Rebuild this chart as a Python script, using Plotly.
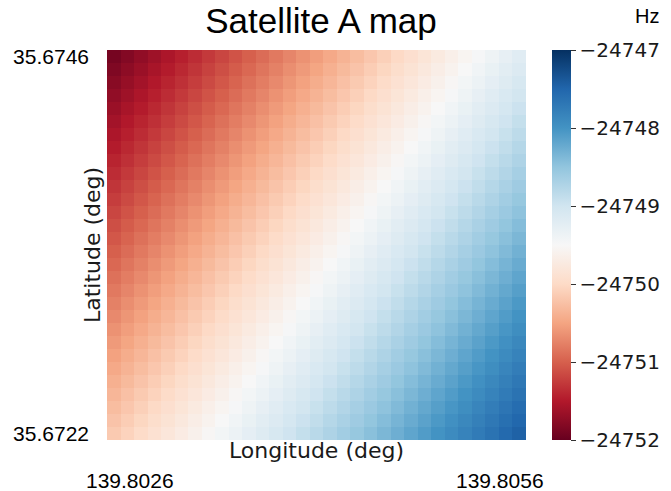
import plotly.graph_objects as go

# ---- data ----
doppler_hz = [
    [-24751.90, -24751.81, -24751.72, -24751.63, -24751.54, -24751.45, -24751.36, -24751.27, -24751.18, -24751.09, -24751.00, -24750.91, -24750.82, -24750.73, -24750.64, -24750.55, -24750.46, -24750.37, -24750.28, -24750.19, -24750.10, -24750.01, -24749.92, -24749.83, -24749.74, -24749.65, -24749.56, -24749.47, -24749.38, -24749.29, -24749.20],
    [-24751.84, -24751.75, -24751.66, -24751.57, -24751.48, -24751.39, -24751.30, -24751.21, -24751.12, -24751.03, -24750.94, -24750.85, -24750.76, -24750.67, -24750.58, -24750.49, -24750.40, -24750.31, -24750.22, -24750.13, -24750.04, -24749.95, -24749.86, -24749.77, -24749.68, -24749.59, -24749.50, -24749.41, -24749.32, -24749.23, -24749.14],
    [-24751.78, -24751.69, -24751.60, -24751.51, -24751.42, -24751.33, -24751.24, -24751.15, -24751.06, -24750.97, -24750.88, -24750.79, -24750.70, -24750.61, -24750.52, -24750.43, -24750.34, -24750.25, -24750.16, -24750.07, -24749.98, -24749.89, -24749.80, -24749.71, -24749.62, -24749.53, -24749.44, -24749.35, -24749.26, -24749.17, -24749.08],
    [-24751.72, -24751.63, -24751.54, -24751.45, -24751.36, -24751.27, -24751.18, -24751.09, -24751.00, -24750.91, -24750.82, -24750.73, -24750.64, -24750.55, -24750.46, -24750.37, -24750.28, -24750.19, -24750.10, -24750.01, -24749.92, -24749.83, -24749.74, -24749.65, -24749.56, -24749.47, -24749.38, -24749.29, -24749.20, -24749.11, -24749.02],
    [-24751.66, -24751.57, -24751.48, -24751.39, -24751.30, -24751.21, -24751.12, -24751.03, -24750.94, -24750.85, -24750.76, -24750.67, -24750.58, -24750.49, -24750.40, -24750.31, -24750.22, -24750.13, -24750.04, -24749.95, -24749.86, -24749.77, -24749.68, -24749.59, -24749.50, -24749.41, -24749.32, -24749.23, -24749.14, -24749.05, -24748.96],
    [-24751.60, -24751.51, -24751.42, -24751.33, -24751.24, -24751.15, -24751.06, -24750.97, -24750.88, -24750.79, -24750.70, -24750.61, -24750.52, -24750.43, -24750.34, -24750.25, -24750.16, -24750.07, -24749.98, -24749.89, -24749.80, -24749.71, -24749.62, -24749.53, -24749.44, -24749.35, -24749.26, -24749.17, -24749.08, -24748.99, -24748.90],
    [-24751.54, -24751.45, -24751.36, -24751.27, -24751.18, -24751.09, -24751.00, -24750.91, -24750.82, -24750.73, -24750.64, -24750.55, -24750.46, -24750.37, -24750.28, -24750.19, -24750.10, -24750.01, -24749.92, -24749.83, -24749.74, -24749.65, -24749.56, -24749.47, -24749.38, -24749.29, -24749.20, -24749.11, -24749.02, -24748.93, -24748.84],
    [-24751.48, -24751.39, -24751.30, -24751.21, -24751.12, -24751.03, -24750.94, -24750.85, -24750.76, -24750.67, -24750.58, -24750.49, -24750.40, -24750.31, -24750.22, -24750.13, -24750.04, -24749.95, -24749.86, -24749.77, -24749.68, -24749.59, -24749.50, -24749.41, -24749.32, -24749.23, -24749.14, -24749.05, -24748.96, -24748.87, -24748.78],
    [-24751.42, -24751.33, -24751.24, -24751.15, -24751.06, -24750.97, -24750.88, -24750.79, -24750.70, -24750.61, -24750.52, -24750.43, -24750.34, -24750.25, -24750.16, -24750.07, -24749.98, -24749.89, -24749.80, -24749.71, -24749.62, -24749.53, -24749.44, -24749.35, -24749.26, -24749.17, -24749.08, -24748.99, -24748.90, -24748.81, -24748.72],
    [-24751.36, -24751.27, -24751.18, -24751.09, -24751.00, -24750.91, -24750.82, -24750.73, -24750.64, -24750.55, -24750.46, -24750.37, -24750.28, -24750.19, -24750.10, -24750.01, -24749.92, -24749.83, -24749.74, -24749.65, -24749.56, -24749.47, -24749.38, -24749.29, -24749.20, -24749.11, -24749.02, -24748.93, -24748.84, -24748.75, -24748.66],
    [-24751.30, -24751.21, -24751.12, -24751.03, -24750.94, -24750.85, -24750.76, -24750.67, -24750.58, -24750.49, -24750.40, -24750.31, -24750.22, -24750.13, -24750.04, -24749.95, -24749.86, -24749.77, -24749.68, -24749.59, -24749.50, -24749.41, -24749.32, -24749.23, -24749.14, -24749.05, -24748.96, -24748.87, -24748.78, -24748.69, -24748.60],
    [-24751.24, -24751.15, -24751.06, -24750.97, -24750.88, -24750.79, -24750.70, -24750.61, -24750.52, -24750.43, -24750.34, -24750.25, -24750.16, -24750.07, -24749.98, -24749.89, -24749.80, -24749.71, -24749.62, -24749.53, -24749.44, -24749.35, -24749.26, -24749.17, -24749.08, -24748.99, -24748.90, -24748.81, -24748.72, -24748.63, -24748.54],
    [-24751.18, -24751.09, -24751.00, -24750.91, -24750.82, -24750.73, -24750.64, -24750.55, -24750.46, -24750.37, -24750.28, -24750.19, -24750.10, -24750.01, -24749.92, -24749.83, -24749.74, -24749.65, -24749.56, -24749.47, -24749.38, -24749.29, -24749.20, -24749.11, -24749.02, -24748.93, -24748.84, -24748.75, -24748.66, -24748.57, -24748.48],
    [-24751.12, -24751.03, -24750.94, -24750.85, -24750.76, -24750.67, -24750.58, -24750.49, -24750.40, -24750.31, -24750.22, -24750.13, -24750.04, -24749.95, -24749.86, -24749.77, -24749.68, -24749.59, -24749.50, -24749.41, -24749.32, -24749.23, -24749.14, -24749.05, -24748.96, -24748.87, -24748.78, -24748.69, -24748.60, -24748.51, -24748.42],
    [-24751.06, -24750.97, -24750.88, -24750.79, -24750.70, -24750.61, -24750.52, -24750.43, -24750.34, -24750.25, -24750.16, -24750.07, -24749.98, -24749.89, -24749.80, -24749.71, -24749.62, -24749.53, -24749.44, -24749.35, -24749.26, -24749.17, -24749.08, -24748.99, -24748.90, -24748.81, -24748.72, -24748.63, -24748.54, -24748.45, -24748.36],
    [-24751.00, -24750.91, -24750.82, -24750.73, -24750.64, -24750.55, -24750.46, -24750.37, -24750.28, -24750.19, -24750.10, -24750.01, -24749.92, -24749.83, -24749.74, -24749.65, -24749.56, -24749.47, -24749.38, -24749.29, -24749.20, -24749.11, -24749.02, -24748.93, -24748.84, -24748.75, -24748.66, -24748.57, -24748.48, -24748.39, -24748.30],
    [-24750.94, -24750.85, -24750.76, -24750.67, -24750.58, -24750.49, -24750.40, -24750.31, -24750.22, -24750.13, -24750.04, -24749.95, -24749.86, -24749.77, -24749.68, -24749.59, -24749.50, -24749.41, -24749.32, -24749.23, -24749.14, -24749.05, -24748.96, -24748.87, -24748.78, -24748.69, -24748.60, -24748.51, -24748.42, -24748.33, -24748.24],
    [-24750.88, -24750.79, -24750.70, -24750.61, -24750.52, -24750.43, -24750.34, -24750.25, -24750.16, -24750.07, -24749.98, -24749.89, -24749.80, -24749.71, -24749.62, -24749.53, -24749.44, -24749.35, -24749.26, -24749.17, -24749.08, -24748.99, -24748.90, -24748.81, -24748.72, -24748.63, -24748.54, -24748.45, -24748.36, -24748.27, -24748.18],
    [-24750.82, -24750.73, -24750.64, -24750.55, -24750.46, -24750.37, -24750.28, -24750.19, -24750.10, -24750.01, -24749.92, -24749.83, -24749.74, -24749.65, -24749.56, -24749.47, -24749.38, -24749.29, -24749.20, -24749.11, -24749.02, -24748.93, -24748.84, -24748.75, -24748.66, -24748.57, -24748.48, -24748.39, -24748.30, -24748.21, -24748.12],
    [-24750.76, -24750.67, -24750.58, -24750.49, -24750.40, -24750.31, -24750.22, -24750.13, -24750.04, -24749.95, -24749.86, -24749.77, -24749.68, -24749.59, -24749.50, -24749.41, -24749.32, -24749.23, -24749.14, -24749.05, -24748.96, -24748.87, -24748.78, -24748.69, -24748.60, -24748.51, -24748.42, -24748.33, -24748.24, -24748.15, -24748.06],
    [-24750.70, -24750.61, -24750.52, -24750.43, -24750.34, -24750.25, -24750.16, -24750.07, -24749.98, -24749.89, -24749.80, -24749.71, -24749.62, -24749.53, -24749.44, -24749.35, -24749.26, -24749.17, -24749.08, -24748.99, -24748.90, -24748.81, -24748.72, -24748.63, -24748.54, -24748.45, -24748.36, -24748.27, -24748.18, -24748.09, -24748.00],
    [-24750.64, -24750.55, -24750.46, -24750.37, -24750.28, -24750.19, -24750.10, -24750.01, -24749.92, -24749.83, -24749.74, -24749.65, -24749.56, -24749.47, -24749.38, -24749.29, -24749.20, -24749.11, -24749.02, -24748.93, -24748.84, -24748.75, -24748.66, -24748.57, -24748.48, -24748.39, -24748.30, -24748.21, -24748.12, -24748.03, -24747.94],
    [-24750.58, -24750.49, -24750.40, -24750.31, -24750.22, -24750.13, -24750.04, -24749.95, -24749.86, -24749.77, -24749.68, -24749.59, -24749.50, -24749.41, -24749.32, -24749.23, -24749.14, -24749.05, -24748.96, -24748.87, -24748.78, -24748.69, -24748.60, -24748.51, -24748.42, -24748.33, -24748.24, -24748.15, -24748.06, -24747.97, -24747.88],
    [-24750.52, -24750.43, -24750.34, -24750.25, -24750.16, -24750.07, -24749.98, -24749.89, -24749.80, -24749.71, -24749.62, -24749.53, -24749.44, -24749.35, -24749.26, -24749.17, -24749.08, -24748.99, -24748.90, -24748.81, -24748.72, -24748.63, -24748.54, -24748.45, -24748.36, -24748.27, -24748.18, -24748.09, -24748.00, -24747.91, -24747.82],
    [-24750.46, -24750.37, -24750.28, -24750.19, -24750.10, -24750.01, -24749.92, -24749.83, -24749.74, -24749.65, -24749.56, -24749.47, -24749.38, -24749.29, -24749.20, -24749.11, -24749.02, -24748.93, -24748.84, -24748.75, -24748.66, -24748.57, -24748.48, -24748.39, -24748.30, -24748.21, -24748.12, -24748.03, -24747.94, -24747.85, -24747.76],
    [-24750.40, -24750.31, -24750.22, -24750.13, -24750.04, -24749.95, -24749.86, -24749.77, -24749.68, -24749.59, -24749.50, -24749.41, -24749.32, -24749.23, -24749.14, -24749.05, -24748.96, -24748.87, -24748.78, -24748.69, -24748.60, -24748.51, -24748.42, -24748.33, -24748.24, -24748.15, -24748.06, -24747.97, -24747.88, -24747.79, -24747.70],
    [-24750.34, -24750.25, -24750.16, -24750.07, -24749.98, -24749.89, -24749.80, -24749.71, -24749.62, -24749.53, -24749.44, -24749.35, -24749.26, -24749.17, -24749.08, -24748.99, -24748.90, -24748.81, -24748.72, -24748.63, -24748.54, -24748.45, -24748.36, -24748.27, -24748.18, -24748.09, -24748.00, -24747.91, -24747.82, -24747.73, -24747.64],
    [-24750.28, -24750.19, -24750.10, -24750.01, -24749.92, -24749.83, -24749.74, -24749.65, -24749.56, -24749.47, -24749.38, -24749.29, -24749.20, -24749.11, -24749.02, -24748.93, -24748.84, -24748.75, -24748.66, -24748.57, -24748.48, -24748.39, -24748.30, -24748.21, -24748.12, -24748.03, -24747.94, -24747.85, -24747.76, -24747.67, -24747.58],
    [-24750.22, -24750.13, -24750.04, -24749.95, -24749.86, -24749.77, -24749.68, -24749.59, -24749.50, -24749.41, -24749.32, -24749.23, -24749.14, -24749.05, -24748.96, -24748.87, -24748.78, -24748.69, -24748.60, -24748.51, -24748.42, -24748.33, -24748.24, -24748.15, -24748.06, -24747.97, -24747.88, -24747.79, -24747.70, -24747.61, -24747.52],
    [-24750.16, -24750.07, -24749.98, -24749.89, -24749.80, -24749.71, -24749.62, -24749.53, -24749.44, -24749.35, -24749.26, -24749.17, -24749.08, -24748.99, -24748.90, -24748.81, -24748.72, -24748.63, -24748.54, -24748.45, -24748.36, -24748.27, -24748.18, -24748.09, -24748.00, -24747.91, -24747.82, -24747.73, -24747.64, -24747.55, -24747.46],
]

lat_tick_labels = ["35.6746", "35.6722"]      # top row, bottom row
lon_tick_labels = ["139.8026", "139.8056"]    # left, right
cbar_tick_values = [-24752, -24751, -24750, -24749, -24748, -24747]
cbar_tick_labels = ["\u221224752", "\u221224751", "\u221224750", "\u221224749", "\u221224748", "\u221224747"]
z_min, z_max = -24752, -24747

title_text = "Satellite A map"
x_title = "Longitude (deg)"
y_title = "Latitude (deg)"
unit_text = "Hz"

rdbu = [
    [0.0, "rgb(103,0,31)"], [0.1, "rgb(178,24,43)"], [0.2, "rgb(214,96,77)"],
    [0.3, "rgb(244,165,130)"], [0.4, "rgb(253,219,199)"], [0.5, "rgb(247,247,247)"],
    [0.6, "rgb(209,229,240)"], [0.7, "rgb(146,197,222)"], [0.8, "rgb(67,147,195)"],
    [0.9, "rgb(33,102,172)"], [1.0, "rgb(5,48,97)"],
]

n_rows = len(doppler_hz)
n_cols = len(doppler_hz[0])

# ---- layout geometry (pixels) ----
W, H = 671, 491
L, R, T, B = 107, 527, 50, 440
pw, ph = R - L, B - T

fig = go.Figure(go.Heatmap(
    z=doppler_hz,
    x=list(range(n_cols)),
    y=list(range(n_rows)),
    colorscale=rdbu,
    zmin=z_min, zmax=z_max,
    zsmooth=False,
    colorbar=dict(
        x=(552 - L) / pw, xanchor="left", xpad=0,
        y=0.5, yanchor="middle", len=1.0, ypad=0,
        thickness=19, outlinewidth=0,
        tickvals=cbar_tick_values, ticktext=cbar_tick_labels,
        ticks="outside", ticklen=5, tickwidth=1, tickcolor="#333333",
        tickfont=dict(family="DejaVu Sans", size=20, color="#1a1a1a"),
    ),
))

fig.update_layout(
    width=W, height=H,
    margin=dict(l=L, r=W - R, t=T, b=H - B, pad=0),
    paper_bgcolor="white", plot_bgcolor="white",
    title=dict(
        text=title_text, xref="container", x=321 / W, xanchor="center",
        yref="container", y=1 - 21 / H, yanchor="middle",
        font=dict(family="Liberation Sans", size=35, color="#000000"),
    ),
    xaxis=dict(
        range=[-0.5, n_cols - 0.5], showgrid=False, zeroline=False,
        showline=False, showticklabels=False, ticks="",
        title=dict(text=x_title, standoff=2,
                   font=dict(family="DejaVu Sans", size=22, color="#1a1a1a")),
    ),
    yaxis=dict(
        range=[n_rows - 0.5, -0.5], showgrid=False, zeroline=False,
        showline=False, ticks="",
        tickvals=[0, n_rows - 1], ticktext=lat_tick_labels,
        ticklabelstandoff=17,
        tickfont=dict(family="Liberation Sans", size=21, color="#000000"),
    ),
    showlegend=False,
)

# y-axis title (placed beside the plot, tick labels sit at the ends)
fig.add_annotation(
    text=y_title, textangle=-90, xref="paper", yref="paper",
    x=-(L - 92) / pw, y=0.5, xanchor="center", yanchor="middle", showarrow=False,
    font=dict(family="DejaVu Sans", size=22, color="#1a1a1a"),
)

# longitude labels below the x-axis title
lon_label_px = [130, 501]
for lbl, px_x in zip(lon_tick_labels, lon_label_px):
    fig.add_annotation(
        text=lbl, xref="paper", yref="paper",
        x=(px_x - L) / pw, y=-(480 - B) / ph, xanchor="center", yanchor="middle",
        showarrow=False, font=dict(family="Liberation Sans", size=21, color="#000000"),
    )

# unit label above the colorbar
fig.add_annotation(
    text=unit_text, xref="paper", yref="paper",
    x=(648 - L) / pw, y=1 + (T - 16) / ph, xanchor="center", yanchor="middle",
    showarrow=False, font=dict(family="Liberation Sans", size=20, color="#000000"),
)

fig.write_html("out.html")
